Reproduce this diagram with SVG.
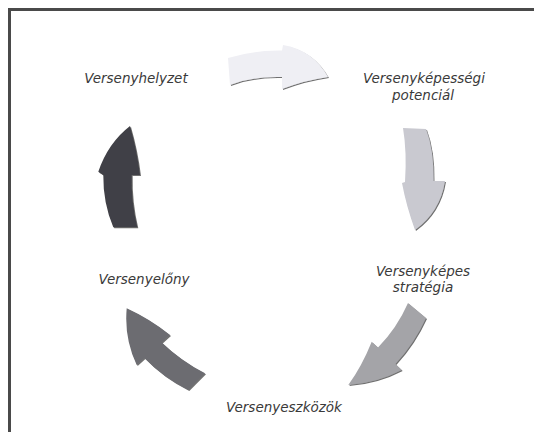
<svg xmlns="http://www.w3.org/2000/svg" width="534" height="432" viewBox="0 0 534 432">
  <defs>
    <style>
      .lbl { font-family: "DejaVu Sans", "Liberation Sans", sans-serif; font-style: italic; font-size: 13.5px; fill: #3a3a3a; text-anchor: middle; }
      .arrow { filter: url(#shade); }
    </style>
    <!-- soft drop shadow under each cycle arrow -->
    <filter id="shade" x="-20%" y="-20%" width="140%" height="140%">
      <feGaussianBlur in="SourceAlpha" stdDeviation="0.6" result="b"/>
      <feOffset in="b" dx="0.8" dy="1.4" result="o"/>
      <feFlood flood-color="#404040" flood-opacity="0.75"/>
      <feComposite in2="o" operator="in" result="s"/>
      <feMerge>
        <feMergeNode in="s"/>
        <feMergeNode in="SourceGraphic"/>
      </feMerge>
    </filter>
  </defs>

  <rect width="534" height="432" fill="#ffffff"/>
  <!-- frame -->
  <path d="M9.5,440 V9.5 H540" fill="none" stroke="#4a4a4a" stroke-width="3"/>

  <!-- connectors: curved cycle arrows -->
  <g id="connectors">
    <path class="arrow" fill="#efeff4" d="M228,58 Q254,50 282,50.5 L283,45 Q313,50 328,77 Q306,80 282,89 L282,77 Q254,76 230,85 Z"/>
    <path class="arrow" fill="#c9c9d0" d="M403,128 L426,129 Q434,150 433.5,181 L445,181 Q440,212 415,230 Q406,205 402,183 L405,182 Q407,152 403,128 Z"/>
    <path class="arrow" fill="#a4a4a8" d="M408,303 Q397,328 378,347.6 L371.7,341.7 Q362,366 348.3,385 Q377,383 401.7,370 L395.4,364.1 Q414.4,343.5 426,318 Z"/>
    <path class="arrow" fill="#6c6c71" d="M205,373.3 Q181,361 161.7,342.5 L170,335 Q150,319 126.7,308.3 Q124,338 136.7,365 L144.4,358.1 Q163.5,378 188.3,390 Z"/>
    <path class="arrow" fill="#414146" d="M137.3,227.3 Q131,201 131.7,175 L140,175 Q137,150 130,126 Q108,143 98.3,171.7 L103.3,175 Q103,203 113.3,227.3 Z"/>
  </g>

  <g id="node-versenyhelyzet">
    <text class="lbl" x="136" y="83">Versenyhelyzet</text>
  </g>
  <g id="node-potencial">
    <text class="lbl" x="424" y="83">Versenyképességi</text>
    <text class="lbl" x="423" y="100">potenciál</text>
  </g>
  <g id="node-strategia">
    <text class="lbl" x="423" y="276">Versenyképes</text>
    <text class="lbl" x="423" y="292">stratégia</text>
  </g>
  <g id="node-eszkozok">
    <text class="lbl" x="284" y="412">Versenyeszközök</text>
  </g>
  <g id="node-elony">
    <text class="lbl" x="144" y="284">Versenyelőny</text>
  </g>
</svg>
